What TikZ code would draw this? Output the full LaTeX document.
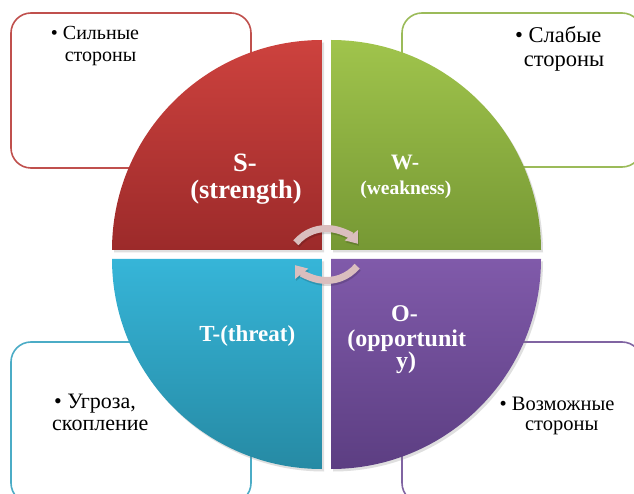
\documentclass[tikz,border=0pt]{standalone}
\usepackage{fontspec}
\setmainfont{Liberation Serif}
\newfontfamily\tnr{Liberation Serif}
\usetikzlibrary{shadows,arrows.meta}
\definecolor{redline}{RGB}{192,80,77}
\definecolor{greenline}{RGB}{155,187,89}
\definecolor{blueline}{RGB}{75,172,198}
\definecolor{purpleline}{RGB}{128,100,162}
\definecolor{redtop}{RGB}{205,66,62}
\definecolor{redbot}{RGB}{156,42,42}
\definecolor{greentop}{RGB}{160,196,76}
\definecolor{greenbot}{RGB}{118,152,52}
\definecolor{bluetop}{RGB}{54,181,216}
\definecolor{bluebot}{RGB}{38,138,164}
\definecolor{purpletop}{RGB}{128,90,170}
\definecolor{purplebot}{RGB}{92,62,130}
\definecolor{cyccol}{RGB}{218,190,190}
\newcommand\myfs[2]{\tnr\fontsize{#1}{#2}\selectfont}
\begin{document}
\begin{tikzpicture}[x=1pt,y=1pt,
  quad/.style={drop shadow={shadow xshift=2pt,shadow yshift=-2.5pt,opacity=0.25}},
  obox/.style={line width=1.6pt,rounded corners=20pt,fill=white},
  lbl/.style={text=white,inner sep=0pt,anchor=base},
  txt/.style={text=black,inner sep=0pt,anchor=base},
  cycarrow/.style={line width=7pt,draw=cyccol,-{Triangle[width=16pt,length=11pt]}},
  cycshadow/.style={line width=7pt,draw=black,opacity=0.15,-{Triangle[width=16pt,length=11pt]}}]
\useasboundingbox (0,0) rectangle (634,493);
\clip (0,0) rectangle (634,493);
\fill[white] (0,0) rectangle (634,493);
% outline boxes
\draw[obox,draw=redline] (11,325) rectangle (251,480);
\draw[obox,draw=greenline] (402,326) rectangle (642,480);
\draw[obox,draw=blueline] (11,-10) rectangle (251,151);
\draw[obox,draw=purpleline] (402,-10) rectangle (642,151);
% quadrants
\path[quad,top color=redtop,bottom color=redbot]
  (322,243) -- (112,243) arc[start angle=180,end angle=90,radius=210] -- cycle;
\path[quad,top color=greentop,bottom color=greenbot]
  (331,243) -- (331,453) arc[start angle=90,end angle=0,radius=210] -- cycle;
\path[quad,top color=bluetop,bottom color=bluebot]
  (322,234) -- (322,24) arc[start angle=270,end angle=180,radius=210] -- cycle;
\path[quad,top color=purpletop,bottom color=purplebot]
  (331,234) -- (541,234) arc[start angle=0,end angle=-90,radius=210] -- cycle;
% box texts
\node[txt,font=\myfs{20}{22}] (s1) at (95,453) {• Сильные};
\node[txt,font=\myfs{20}{22}] (s2) at (100.5,431) {стороны};
\node[txt,font=\myfs{22.5}{24}] (w1) at (558.3,450) {• Слабые};
\node[txt,font=\myfs{22.5}{24}] (w2) at (564,426.3) {стороны};
\node[txt,font=\myfs{22}{24}] (t1) at (95,84.7) {• Угроза,};
\node[txt,font=\myfs{22}{24}] (t2) at (100.3,63) {скопление};
\node[txt,font=\myfs{20.5}{22}] (o1) at (557,83) {• Возможные};
\node[txt,font=\myfs{20.5}{22}] (o2) at (561.7,63) {стороны};
% quadrant labels
\node[lbl,font=\myfs{26.5}{27}\bfseries] (sl1) at (245,321) {S-};
\node[lbl,font=\myfs{26.5}{27}\bfseries] (sl2) at (246,294.5) {(strength)};
\node[lbl,font=\myfs{22}{24}\bfseries] (wl1) at (405,323) {W-};
\node[lbl,font=\myfs{19.5}{21}\bfseries] (wl2) at (405.8,298) {(weakness)};
\node[lbl,font=\myfs{24}{25}\bfseries] (ol1) at (404.5,171.3) {O-};
\node[lbl,font=\myfs{24}{25}\bfseries] (ol2) at (406.7,146.3) {(opportunit};
\node[lbl,font=\myfs{24}{25}\bfseries] (ol3) at (406,125) {y)};
\node[lbl,font=\myfs{23}{24}\bfseries] (tl1) at (247.3,151.3) {T-(threat)};
% cycle arrows
\coordinate (ta) at (295.86,250.21);
\coordinate (tas) at (296.86,248.21);
\coordinate (ba) at (357.14,226.79);
\coordinate (bas) at (358.14,224.79);
\draw[cycshadow] (tas) arc[start angle=140,end angle=38,radius=40];
\draw[cycshadow] (bas) arc[start angle=-40,end angle=-142,radius=40];
\draw[cycarrow] (ta) arc[start angle=140,end angle=38,radius=40];
\draw[cycarrow] (ba) arc[start angle=-40,end angle=-142,radius=40];
\end{tikzpicture}
\end{document}
